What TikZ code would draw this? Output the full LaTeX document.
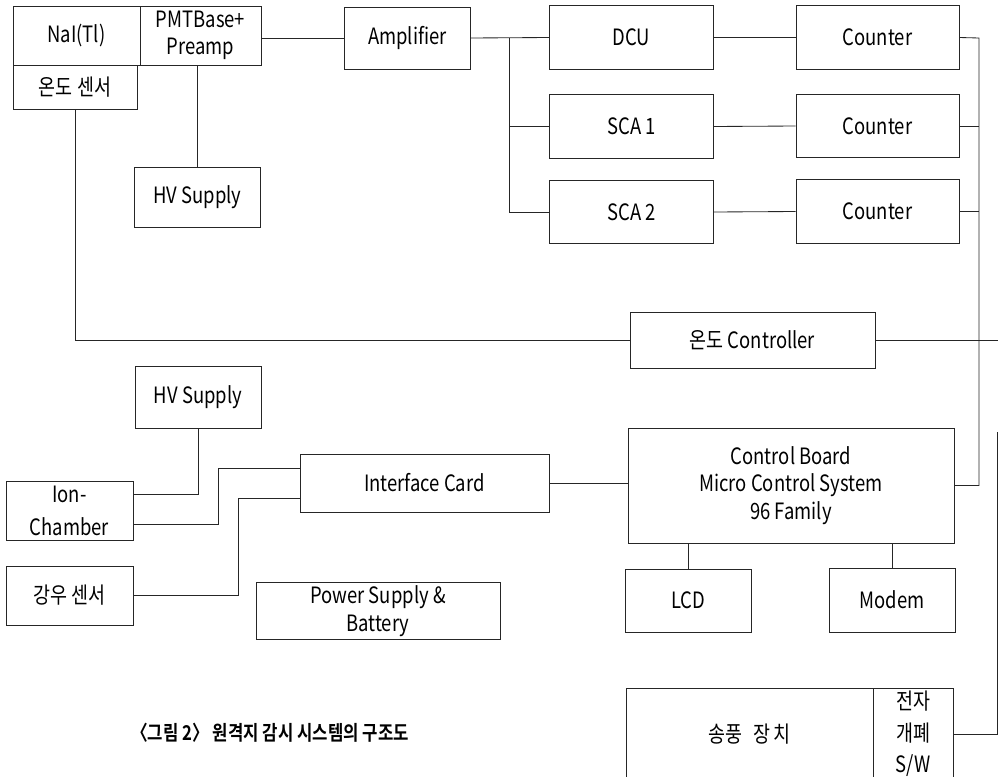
\documentclass[tikz,border=0pt]{standalone}
\usepackage{fontspec}
\setmainfont[FakeStretch=0.82,BoldFont={Noto Sans CJK KR Bold}]{Noto Sans CJK KR}
\usepackage{tikz}

\begin{document}
\begin{tikzpicture}[
    x=0.025cm, y=-0.025cm,
    font=\fontsize{16}{19.5}\selectfont,
    block/.style={rectangle, draw=black!85, line width=0.6pt, text centered, align=center, inner sep=2pt},
    unitbox/.style={block, minimum width=3.15cm, minimum height=1.5cm},
    midbox/.style={block, minimum width=4.1cm, minimum height=1.58cm},
    widebox/.style={block, minimum width=6.15cm, minimum height=1.4cm},
    wire/.style={draw=black!85, line width=0.6pt}
]
    \useasboundingbox (0,0) rectangle (998,776);
    \clip (0,0) rectangle (998,776);

    % Detector head
    \node [unitbox, minimum width=3.175cm, minimum height=1.475cm] (nai) at (76.5,35.5) {NaI(Tl)};
    \node [unitbox, minimum width=3.025cm, minimum height=1.475cm] (pmt) at (200.5,35.5) {PMTBase+\\Preamp};
    \node [unitbox, minimum width=3.1cm, minimum height=1.1cm] (tsens) at (75,87) {온도 센서};
    \node [unitbox] (hvtop) at (197.5,197) {HV Supply};

    % Pulse chain
    \node [unitbox, minimum height=1.55cm] (amp) at (407.5,38) {Amplifier};
    \node [midbox] (dcu) at (631.5,37.5) {DCU};
    \node [midbox] (scaone) at (631.5,126.5) {SCA 1};
    \node [midbox] (scatwo) at (631.5,212) {SCA 2};
    \node [midbox, minimum width=4.075cm] (cntone) at (877.5,37.5) {Counter};
    \node [midbox, minimum width=4.075cm] (cnttwo) at (877.5,126) {Counter};
    \node [midbox, minimum width=4.075cm] (cntthree) at (877.5,211.5) {Counter};

    % Temperature control
    \node [widebox, minimum width=6.125cm] (tctrl) at (752.5,340) {온도 Controller};

    % Ion chamber and rain sensor side
    \node [unitbox, minimum height=1.55cm] (hvlow) at (198,397) {HV Supply};
    \node [unitbox, minimum width=3.175cm, minimum height=1.475cm] (ion) at (69.5,510.5) {Ion-\\[4pt]Chamber};
    \node [unitbox, minimum width=3.175cm, minimum height=1.475cm] (rain) at (69.5,595.5) {강우 센서};
    \node [widebox, minimum width=6.225cm, minimum height=1.45cm] (iface) at (424.5,483) {Interface Card};
    \node [widebox, minimum width=6.1cm, minimum height=1.3cm] (psu) at (378,611) {Power Supply \&\\Battery};

    % Control board
    \node [block, minimum width=8.15cm, minimum height=2.875cm] (cb) at (791,485.5) {Control Board\\Micro Control System\\96 Family};
    \node [unitbox, minimum height=1.575cm] (lcd) at (688,600.5) {LCD};
    \node [unitbox, minimum height=1.6cm] (modem) at (892,600) {Modem};

    % Blower
    \node [block, minimum width=6.175cm, minimum height=2.3cm] (fan) at (749.5,734) {송풍\enspace 장\,치};
    \node [block, minimum width=2cm, minimum height=2.3cm] (sw) at (913,734) {전자\\[3pt]개폐\\[3pt]S/W};

    % Caption
    \node [font=\fontsize{14.5}{17}\selectfont\bfseries] (caption) at (270,733) {〈그림 2〉 원격지 감시 시스템의 구조도};

    % Connections
    \coordinate (split) at (509,38);
    \coordinate (bus) at (979,38);
    \coordinate (tout) at (998,337);
    \coordinate (swup) at (997,432);
    \draw [wire] (pmt.east |- amp.west) -- (amp.west);
    \draw [wire] (hvtop.north) -- (hvtop.north |- pmt.south);
    \draw [wire] (tsens.south) |- (tctrl.west);
    \draw [wire] (amp.east) -- (dcu.west);
    \draw [wire] (split) |- (scaone.west);
    \draw [wire] (split) |- (scatwo.west);
    \draw [wire] (dcu.east) -- (cntone.west);
    \draw [wire] (scaone.east) -- (cnttwo.west);
    \draw [wire] (scatwo.east) -- (cntthree.west);
    \draw [wire] (cntone.east) -- (bus) |- (cb.east);
    \draw [wire] (cnttwo.east) -- (cnttwo.east -| bus);
    \draw [wire] (cntthree.east) -- (cntthree.east -| bus);
    \draw [wire] (tctrl.east) -- (tctrl.east -| tout);
    \draw [wire] (sw.east) -| (swup);
    \draw [wire] (iface.east) -- (iface.east -| cb.west);
    \draw [wire] (hvlow.south) |- ([yshift=0.41cm]ion.east);
    \draw [wire] ([yshift=-0.36cm]ion.east) -- ++(85,0) |- ([yshift=0.375cm]iface.west);
    \draw [wire] (rain.east) -- ++(105,0) |- ([yshift=-0.375cm]iface.west);
    \draw [wire] (lcd.north) -- (lcd.north |- cb.south);
    \draw [wire] (modem.north) -- (modem.north |- cb.south);
\end{tikzpicture}
\end{document}
